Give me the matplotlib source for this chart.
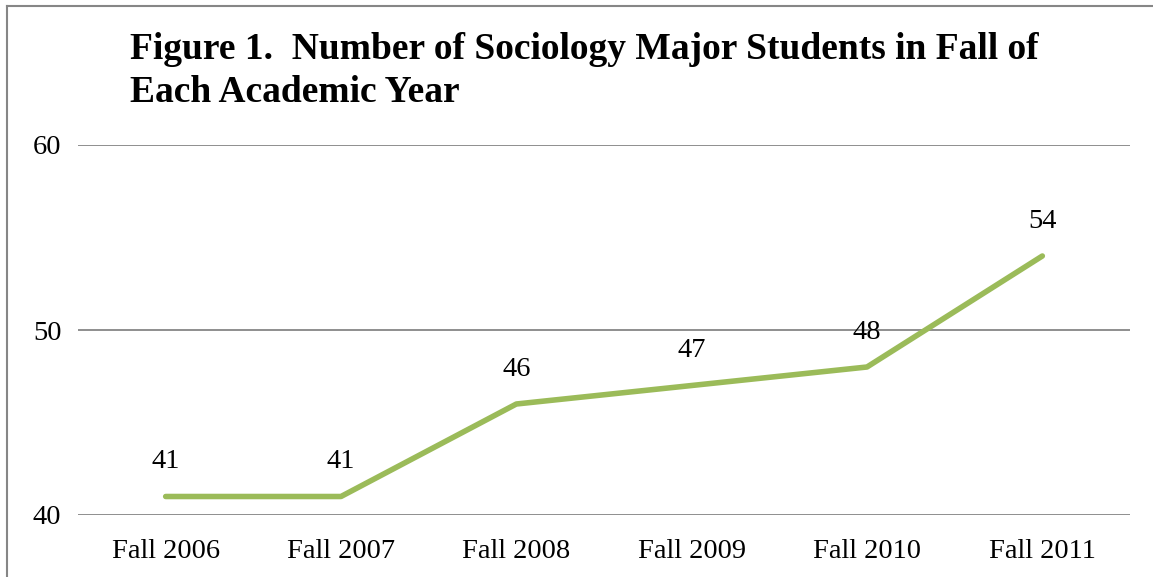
import matplotlib.pyplot as plt

years = ["Fall 2006", "Fall 2007", "Fall 2008", "Fall 2009", "Fall 2010", "Fall 2011"]
majors = [41, 41, 46, 47, 48, 54]
y_ticks = [40, 50, 60]

plt.rcParams["font.family"] = ["Liberation Serif", "DejaVu Serif"]

W, H = 1153, 577
fig = plt.figure(figsize=(W / 100, H / 100), dpi=100)

# axes area in pixels: x 78..1130, y 145..515
ax = fig.add_axes([78 / W, 1 - 515 / H, (1130 - 78) / W, (515 - 145) / H])
x = range(len(years))
ax.plot(x, majors, color="#9BBB59", lw=4, solid_capstyle="round",
        solid_joinstyle="round", zorder=3)
for xi, v in zip(x, majors):
    ax.annotate(str(v), (xi, v), xytext=(0, 25), textcoords="offset points",
                ha="center", va="center", fontsize=20.5, color="black")

ax.set_xlim(-0.5, len(years) - 0.5)
ax.set_ylim(40, 60)
ax.set_yticks(y_ticks)
ax.set_xticks(list(x))
ax.set_xticklabels(years)
ax.tick_params(axis="both", length=0, labelsize=20.5, colors="black")
ax.tick_params(axis="y", pad=12)
ax.tick_params(axis="x", pad=17)
ax.grid(axis="y", color="#868686", lw=1.3)
ax.set_axisbelow(True)
for s in ax.spines.values():
    s.set_visible(False)

fig.text(130 / W, 1 - 71 / H, "Figure 1.  Number of Sociology Major Students in Fall of\nEach Academic Year",
         fontsize=27, fontweight="bold", ha="left", va="center", linespacing=1.28)

# chart frame (only top and left edges are visible in the crop)
fig.add_artist(plt.Line2D([7 / W, 7 / W], [0, 1 - 5.5 / H], color="#868686", lw=1.5,
                          transform=fig.transFigure))
fig.add_artist(plt.Line2D([7 / W, 1], [1 - 5.5 / H, 1 - 5.5 / H], color="#868686", lw=1.5,
                          transform=fig.transFigure))

fig.savefig("out.png", dpi=100)
